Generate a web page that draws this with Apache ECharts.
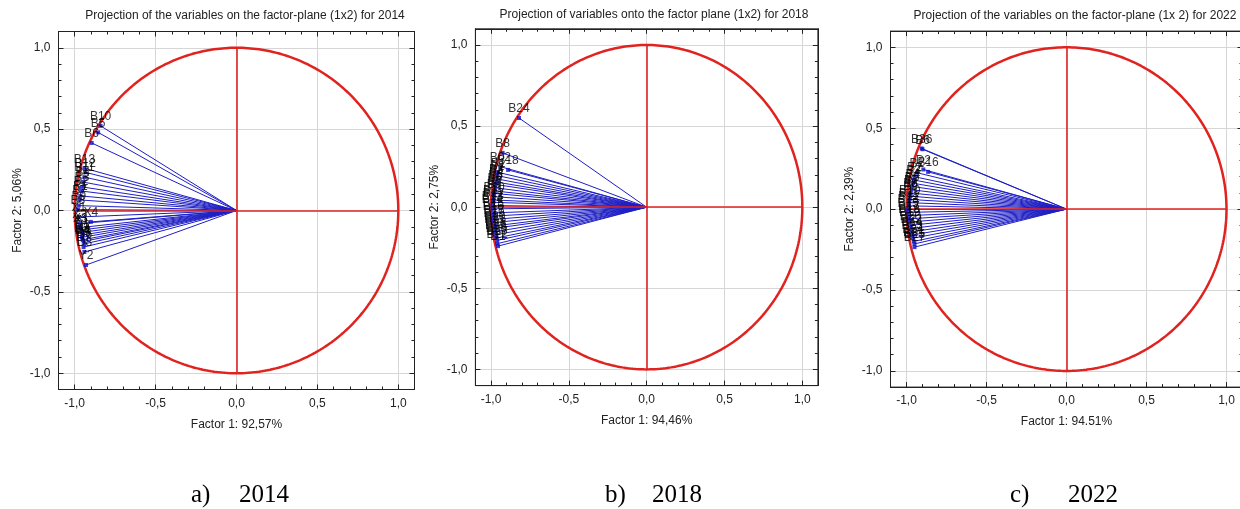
<!DOCTYPE html>
<html><head><meta charset="utf-8">
<script src="https://cdn.jsdelivr.net/npm/echarts@6/dist/echarts.min.js"></script>
<style>html,body{margin:0;padding:0;background:#fff}#c{width:1240px;height:509px}</style>
</head><body><div id="c"></div>
<script>
// ---------- text ----------
const titles = [
  'Projection of the variables on the factor-plane (1x2) for 2014',
  'Projection of variables onto the factor plane (1x2) for 2018',
  'Projection of the variables on the factor-plane (1x 2) for 2022'
];
const xNames = ['Factor 1: 92,57%', 'Factor 1: 94,46%', 'Factor 1: 94.51%'];
const yNames = ['Factor 2: 5,06%', 'Factor 2: 2,75%', 'Factor 2: 2,39%'];
const captionLetters = ['a)', 'b)', 'c)'];
const captionYears = ['2014', '2018', '2022'];
const tickValues = [-1, -0.5, 0, 0.5, 1];
const tickLabels = ['-1,0', '-0,5', '0,0', '0,5', '1,0'];

// ---------- data: factor loadings ----------
const labels2014 = ['B10','B5','B6','B13','B12','B11','B4','B3','B2','B1','B7','B9','B8','X4','X1','X2','X3','Y1','D1','D2','D3','D4','D5','D6','D7','D8','Y2'];
const x2014 = [-0.84,-0.855,-0.895,-0.94,-0.935,-0.94,-0.95,-0.955,-0.96,-0.965,-0.97,-0.975,-0.98,-0.90,-0.975,-0.97,-0.965,-0.96,-0.955,-0.95,-0.955,-0.95,-0.945,-0.94,-0.945,-0.94,-0.93];
const y2014 = [0.52,0.48,0.415,0.26,0.235,0.205,0.175,0.145,0.12,0.09,0.065,0.03,0.005,-0.07,-0.04,-0.08,-0.105,-0.12,-0.135,-0.15,-0.165,-0.18,-0.19,-0.205,-0.225,-0.255,-0.335];

const labels2018 = ['B24','B8','B02','B18','B1','B2','B3','B4','B5','B6','B7','B9','B10','B11','B12','B13','B14','B15','B16','B17','B19','B20','B21','B23','B25','B26','B27','B22','D1'];
const x2018 = [-0.82,-0.925,-0.94,-0.89,-0.955,-0.96,-0.965,-0.965,-0.97,-0.975,-0.975,-0.98,-0.98,-0.985,-0.985,-0.99,-0.99,-0.985,-0.985,-0.98,-0.98,-0.975,-0.975,-0.97,-0.97,-0.965,-0.96,-0.96,-0.955];
const y2018 = [0.55,0.335,0.25,0.23,0.215,0.195,0.175,0.155,0.14,0.12,0.10,0.085,0.065,0.045,0.03,0.01,-0.01,-0.035,-0.055,-0.075,-0.095,-0.115,-0.13,-0.15,-0.17,-0.19,-0.205,-0.225,-0.24];

const labels2022 = ['B36','B6','B1','D2','B16','B2','B3','B4','B5','B7','B8','B9','B10','B11','B12','B13','B15','B17','B18','B19','B20','B22','B14','B23','B24','B21','B25','B27'];
const x2022 = [-0.905,-0.90,-0.935,-0.895,-0.865,-0.95,-0.955,-0.96,-0.965,-0.97,-0.975,-0.975,-0.98,-0.985,-0.985,-0.99,-0.99,-0.985,-0.985,-0.98,-0.975,-0.97,-0.965,-0.965,-0.96,-0.955,-0.95,-0.95];
const y2022 = [0.375,0.37,0.225,0.245,0.23,0.20,0.18,0.16,0.14,0.12,0.10,0.08,0.06,0.04,0.02,0.0,-0.02,-0.04,-0.06,-0.08,-0.10,-0.12,-0.14,-0.16,-0.18,-0.20,-0.215,-0.235];

const panels = [
  {labels: labels2014, xs: x2014, ys: y2014},
  {labels: labels2018, xs: x2018, ys: y2018},
  {labels: labels2022, xs: x2022, ys: y2022}
];

// ---------- layout ----------
const grids = [
  {left: 58.5, top: 31.5, width: 356, height: 358},
  {left: 475.4, top: 28.8, width: 342.5, height: 356.8},
  {left: 890.5, top: 31.1, width: 352, height: 356}
];
const titlePos = [[245, 16], [654, 15], [1075, 16]];
const capLetterX = [191, 605, 1010];
const capYearX = [239, 652, 1068];

const FONT = '"Liberation Sans", Arial, sans-serif';
const AX = '#222';
const GRIDC = '#d6d6d6';
const RED = '#e0231f';
const BLUE = '#1e1ec4';

function fmt(v) {
  for (let i = 0; i < tickValues.length; i++) if (Math.abs(v - tickValues[i]) < 1e-6) return tickLabels[i];
  return '';
}
function axis(dim, gi, pos, kind, name) {
  const main = kind === 'main';
  const a = {
    type: 'value', gridIndex: gi, position: pos, min: -1.1, max: 1.1,
    axisLine: {show: main, onZero: false, lineStyle: {color: AX, width: 1}},
    axisTick: {show: true, inside: true, length: main ? 5 : 3, lineStyle: {color: AX}},
    splitLine: {show: main && (pos === 'bottom' || pos === 'left'), lineStyle: {color: GRIDC, width: 1}},
    axisLabel: {show: main && (pos === 'bottom' || pos === 'left'), formatter: fmt, color: AX, fontSize: 12, fontFamily: FONT, margin: 8},
    silent: true
  };
  if (main) a.splitNumber = 4; else a.interval = 0.1;
  if (name) {
    a.name = name; a.nameLocation = 'middle';
    a.nameGap = dim === 'x' ? 29 : 35;
    a.nameTextStyle = {color: AX, fontSize: 12, fontFamily: FONT};
  }
  return a;
}

const xAxes = [], yAxes = [], series = [], graphic = [];
const circlePts = [];
for (let k = 0; k <= 360; k++) { const t = k * Math.PI / 180; circlePts.push([Math.cos(t), Math.sin(t)]); }

panels.forEach((p, i) => {
  const base = xAxes.length;
  xAxes.push(axis('x', i, 'bottom', 'main', xNames[i]));
  xAxes.push(axis('x', i, 'bottom', 'minor'));
  xAxes.push(axis('x', i, 'top', 'main'));
  xAxes.push(axis('x', i, 'top', 'minor'));
  yAxes.push(axis('y', i, 'left', 'main', yNames[i]));
  yAxes.push(axis('y', i, 'left', 'minor'));
  yAxes.push(axis('y', i, 'right', 'main'));
  yAxes.push(axis('y', i, 'right', 'minor'));
  const xi = base, yi = base;
  series.push({
    type: 'lines', coordinateSystem: 'cartesian2d', xAxisIndex: xi, yAxisIndex: yi, silent: true, z: 2,
    lineStyle: {color: BLUE, width: 1, opacity: 1},
    data: p.xs.map((x, j) => ({coords: [[0, 0], [x, p.ys[j]]]}))
  });
  series.push({
    type: 'line', xAxisIndex: xi, yAxisIndex: yi, data: circlePts, showSymbol: false, silent: true, z: 3,
    lineStyle: {color: RED, width: 2.5}
  });
  series.push({
    type: 'lines', coordinateSystem: 'cartesian2d', xAxisIndex: xi, yAxisIndex: yi, silent: true, z: 3,
    lineStyle: {color: RED, width: 1.6, opacity: 1},
    data: [{coords: [[-1, 0], [1, 0]]}, {coords: [[0, -1], [0, 1]]}]
  });
  series.push({
    type: 'scatter', xAxisIndex: xi, yAxisIndex: yi, symbol: 'rect', symbolSize: 4, silent: true, z: 4,
    itemStyle: {color: '#1010c8'},
    label: {show: true, position: 'top', distance: 1, formatter: '{b}', color: '#000', fontSize: 12, fontFamily: FONT},
    data: p.xs.map((x, j) => ({name: p.labels[j], value: [x, p.ys[j]]}))
  });
  graphic.push({type: 'text', x: titlePos[i][0], y: titlePos[i][1], style: {text: titles[i], fill: '#222', font: '12px ' + FONT, align: 'center', verticalAlign: 'middle'}});
  graphic.push({type: 'text', x: capLetterX[i], y: 495, style: {text: captionLetters[i], fill: '#000', font: '25px "Liberation Serif", "Times New Roman", serif', align: 'left', verticalAlign: 'middle'}});
  graphic.push({type: 'text', x: capYearX[i], y: 495, style: {text: captionYears[i], fill: '#000', font: '25px "Liberation Serif", "Times New Roman", serif', align: 'left', verticalAlign: 'middle'}});
});

const chart = echarts.init(document.getElementById('c'), null, {renderer: 'canvas'});
chart.setOption({
  animation: false,
  backgroundColor: '#fff',
  grid: grids.map(g => Object.assign({show: true, borderColor: AX, borderWidth: 1, backgroundColor: '#fff', containLabel: false, outerBoundsMode: 'none'}, g)),
  xAxis: xAxes,
  yAxis: yAxes,
  series: series,
  graphic: graphic
});
</script></body></html>
